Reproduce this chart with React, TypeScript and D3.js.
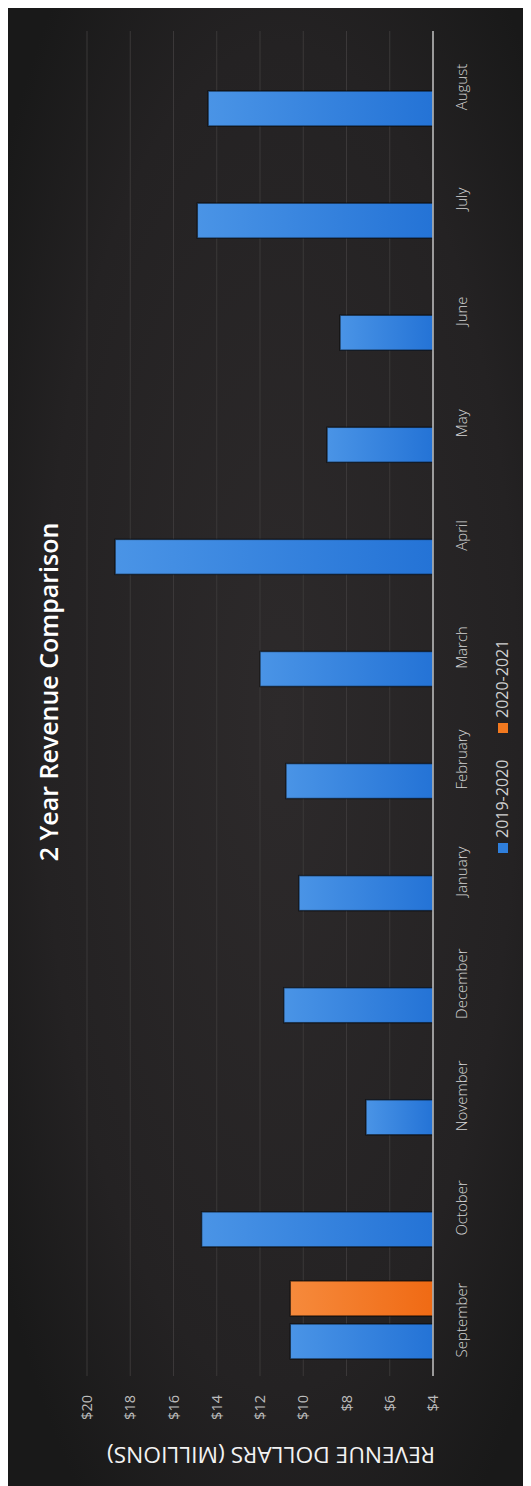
import React from "react";
import * as d3 from "d3";

const months = ["September","October","November","December","January","February","March","April","May","June","July","August"];
const rev2019 = [10.6, 14.7, 7.1, 10.9, 10.2, 10.8, 12.0, 18.7, 8.9, 8.3, 14.9, 14.4];
const rev2020: (number | null)[] = [10.6, null, null, null, null, null, null, null, null, null, null, null];
const seriesNames = ["2019-2020", "2020-2021"];
const seriesColors = ["#2f7fdc", "#f2791f"];
const yTicks = [4, 6, 8, 10, 12, 14, 16, 18, 20];
const title = "2 Year Revenue Comparison";
const axisTitle = "REVENUE DOLLARS (MILLIONS)";

const SVG_W = 523;
const SVG_H = 1478;

export default function App() {
  // Draw in the chart's original (unrotated) frame: width = SVG_H, height = SVG_W
  const OW = SVG_H;
  const x = d3.scaleBand<string>().domain(months).range([110, 1455]).padding(0);
  const xs = d3
    .scaleBand<string>()
    .domain(seriesNames)
    .range([x.bandwidth() / 2 - 39, x.bandwidth() / 2 + 39])
    .paddingInner(0.186);
  const y = d3.scaleLinear().domain([4, 20]).range([425, 79]);
  const series = [rev2019, rev2020];
  const font = "'Open Sans', 'DejaVu Sans', sans-serif";

  return (
    <>
      <style>{`html,body{overflow:hidden}`}</style>
      <svg width={SVG_W} height={SVG_H} style={{ display: "block" }}>
        <defs>
          <radialGradient id="bg" cx="52%" cy="48%" r="65%">
            <stop offset="0%" stopColor="#2d2a2b" />
            <stop offset="70%" stopColor="#242223" />
            <stop offset="100%" stopColor="#191919" />
          </radialGradient>
          <linearGradient id="g0" x1="0" y1="0" x2="0" y2="1">
            <stop offset="0%" stopColor="#4a94e6" />
            <stop offset="100%" stopColor="#2473d6" />
          </linearGradient>
          <linearGradient id="g1" x1="0" y1="0" x2="0" y2="1">
            <stop offset="0%" stopColor="#f68a3c" />
            <stop offset="100%" stopColor="#f06a14" />
          </linearGradient>
        </defs>
        <rect x={0} y={0} width={SVG_W} height={SVG_H} fill="url(#bg)" />
        <g transform={`translate(0, ${OW}) rotate(-90)`}>
          {/* gridlines */}
          {yTicks.slice(1).map((t) => (
            <line key={t} x1={110} x2={1455} y1={y(t)} y2={y(t)} stroke="#3b3839" strokeWidth={1} />
          ))}
          {/* bars */}
          {series.map((vals, si) =>
            vals.map((v, i) =>
              v == null ? null : (
                <rect
                  key={`${si}-${i}`}
                  x={(x(months[i]) as number) + (xs(seriesNames[si]) as number)}
                  y={y(v)}
                  width={xs.bandwidth()}
                  height={y(4) - y(v)}
                  fill={`url(#g${si})`}
                  stroke="rgba(0,0,0,0.55)"
                  strokeWidth={1.5}
                />
              )
            )
          )}
          {/* baseline */}
          <line x1={110} x2={1455} y1={y(4)} y2={y(4)} stroke="#c4c4c4" strokeWidth={1.5} />
          {/* tick labels */}
          {yTicks.map((t) => (
            <text
              key={t}
              x={91}
              y={y(t)}
              dy="0.35em"
              textAnchor="end"
              fill="#bdbdbd"
              fontSize={14.5}
              fontFamily={font}
            >
              {`$${t}`}
            </text>
          ))}
          {/* category labels */}
          {months.map((m) => (
            <text
              key={m}
              x={(x(m) as number) + x.bandwidth() / 2}
              y={459}
              textAnchor="middle"
              fill="#d4d4d4"
              fontSize={15}
              fontWeight={300}
              fontFamily={font}
            >
              {m}
            </text>
          ))}
          {/* axis title */}
          <text
            transform={`translate(39, 263) rotate(-90)`}
            textAnchor="middle"
            fill="#f2f2f2"
            fontSize={21}
            fontFamily={font}
            textLength={328}
            lengthAdjust="spacingAndGlyphs"
          >
            {axisTitle}
          </text>
          {/* title */}
          <text x={794} y={50} textAnchor="middle" fill="#ffffff" fontSize={25} fontWeight={600} fontFamily={font}>
            {title}
          </text>
          {/* legend */}
          {seriesNames.map((s, i) => {
            const sx = i === 0 ? 638 : 758;
            return (
              <g key={s}>
                <rect x={sx - 5} y={490} width={10} height={10} fill={seriesColors[i]} />
                <text x={sx + 10} y={500} fill="#d0d0d0" fontSize={16} fontFamily={font}>
                  {s}
                </text>
              </g>
            );
          })}
        </g>
      </svg>
    </>
  );
}
